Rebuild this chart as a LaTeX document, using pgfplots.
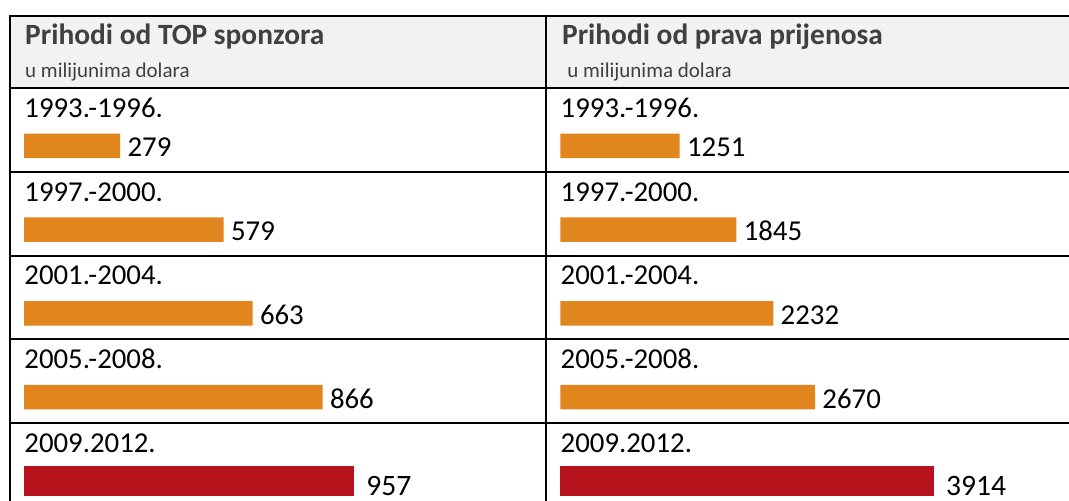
\documentclass[border=0pt]{standalone}
\usepackage{fontspec}
\setmainfont{Carlito}
\usepackage{pgfplots}
\pgfplotsset{compat=1.18}
\usepackage{pgfplotstable}

\definecolor{barorange}{RGB}{225,134,28}
\definecolor{barred}{RGB}{182,19,28}
\definecolor{headgray}{RGB}{242,242,242}
\definecolor{headtext}{RGB}{64,64,64}

% TOP sponsors (millions USD)
\pgfplotstableread{
r v
0 279
1 579
2 663
3 866
}\sponsor
\pgfplotstableread{
r v
4 957
}\sponsorlast
% broadcast rights (millions USD)
\pgfplotstableread{
r v
0 1251
1 1845
2 2232
3 2670
}\rights
\pgfplotstableread{
r v
4 3914
}\rightslast

\pgfplotsset{
  colaxis/.style={
    scale only axis, width=250pt, height=206.5pt,
    anchor=north west,
    xmin=0, ymin=-0.6896, ymax=4.2417, y dir=reverse,
    axis line style={draw=none}, xtick=\empty,
    ytick={0,1,2,3,4},
    yticklabels={1993.-1996.,1997.-2000.,2001.-2004.,2005.-2008.,2009.2012.},
    major tick length=0pt,
    yticklabel style={anchor=base west, inner sep=0pt, text=black,
      font=\fontsize{14.4}{16}\selectfont, yshift=14.2pt},
    clip=false,
  },
  orangebar/.style={xbar, bar shift=0pt, bar width=12.25pt, fill=barorange, draw=none,
    nodes near coords, point meta=explicit symbolic,
    every node near coord/.append style={anchor=base west, inner sep=0pt, text=black,
      font=\fontsize{14.4}{16}\selectfont, xshift=3.5pt, yshift=-5.5pt}},
  redbar/.style={xbar, bar shift=0pt, bar width=15pt, fill=barred, draw=none,
    nodes near coords, point meta=explicit symbolic,
    every node near coord/.append style={anchor=base west, inner sep=0pt, text=black,
      font=\fontsize{14.8}{17}\selectfont, xshift=6pt, yshift=-7.4pt}},
}

\begin{document}
\begin{tikzpicture}
\path[use as bounding box] (0,0) rectangle (534.5pt,-250.5pt);
\clip (0,0) rectangle (534.5pt,-250.5pt);

\fill[headgray] (4.75pt,-8pt) rectangle (534.5pt,-44pt);

\node[anchor=base west, inner sep=0pt, text=headtext,
  font=\bfseries\fontsize{14.7}{17}\selectfont] at (12.4pt,-22.25pt) {Prihodi od TOP sponzora};
\node[anchor=base west, inner sep=0pt, text=headtext,
  font=\bfseries\fontsize{14.7}{17}\selectfont] at (280.85pt,-22.25pt) {Prihodi od prava prijenosa};
\node[anchor=base west, inner sep=0pt, text=headtext,
  font=\fontsize{10.5}{12}\selectfont] at (12.4pt,-38.65pt) {u milijunima dolara};
\node[anchor=base west, inner sep=0pt, text=headtext,
  font=\fontsize{10.5}{12}\selectfont] at (283.5pt,-38.65pt) {u milijunima dolara};

\begin{axis}[colaxis, at={(12pt,-44pt)}, xmax=1450]
  \addplot[orangebar] table[x=v, y=r, meta=v] {\sponsor};
  \addplot[redbar] table[x=v, y=r, meta=v] {\sponsorlast};
\end{axis}

\begin{axis}[colaxis, at={(280.15pt,-44pt)}, xmax=5240]
  \addplot[orangebar] table[x=v, y=r, meta=v] {\rights};
  \addplot[redbar] table[x=v, y=r, meta=v] {\rightslast};
\end{axis}

\begin{scope}[line width=1pt, black]
  \draw (4.75pt,-8pt) -- (534.5pt,-8pt);
  \foreach \yy in {-44,-86,-128,-169.75,-211.65}
    \draw (4.75pt,\yy pt) -- (534.5pt,\yy pt);
  \draw (4.75pt,-7.5pt) -- (4.75pt,-250.5pt);
  \draw (272.75pt,-7.5pt) -- (272.75pt,-250.5pt);
\end{scope}
\end{tikzpicture}
\end{document}
